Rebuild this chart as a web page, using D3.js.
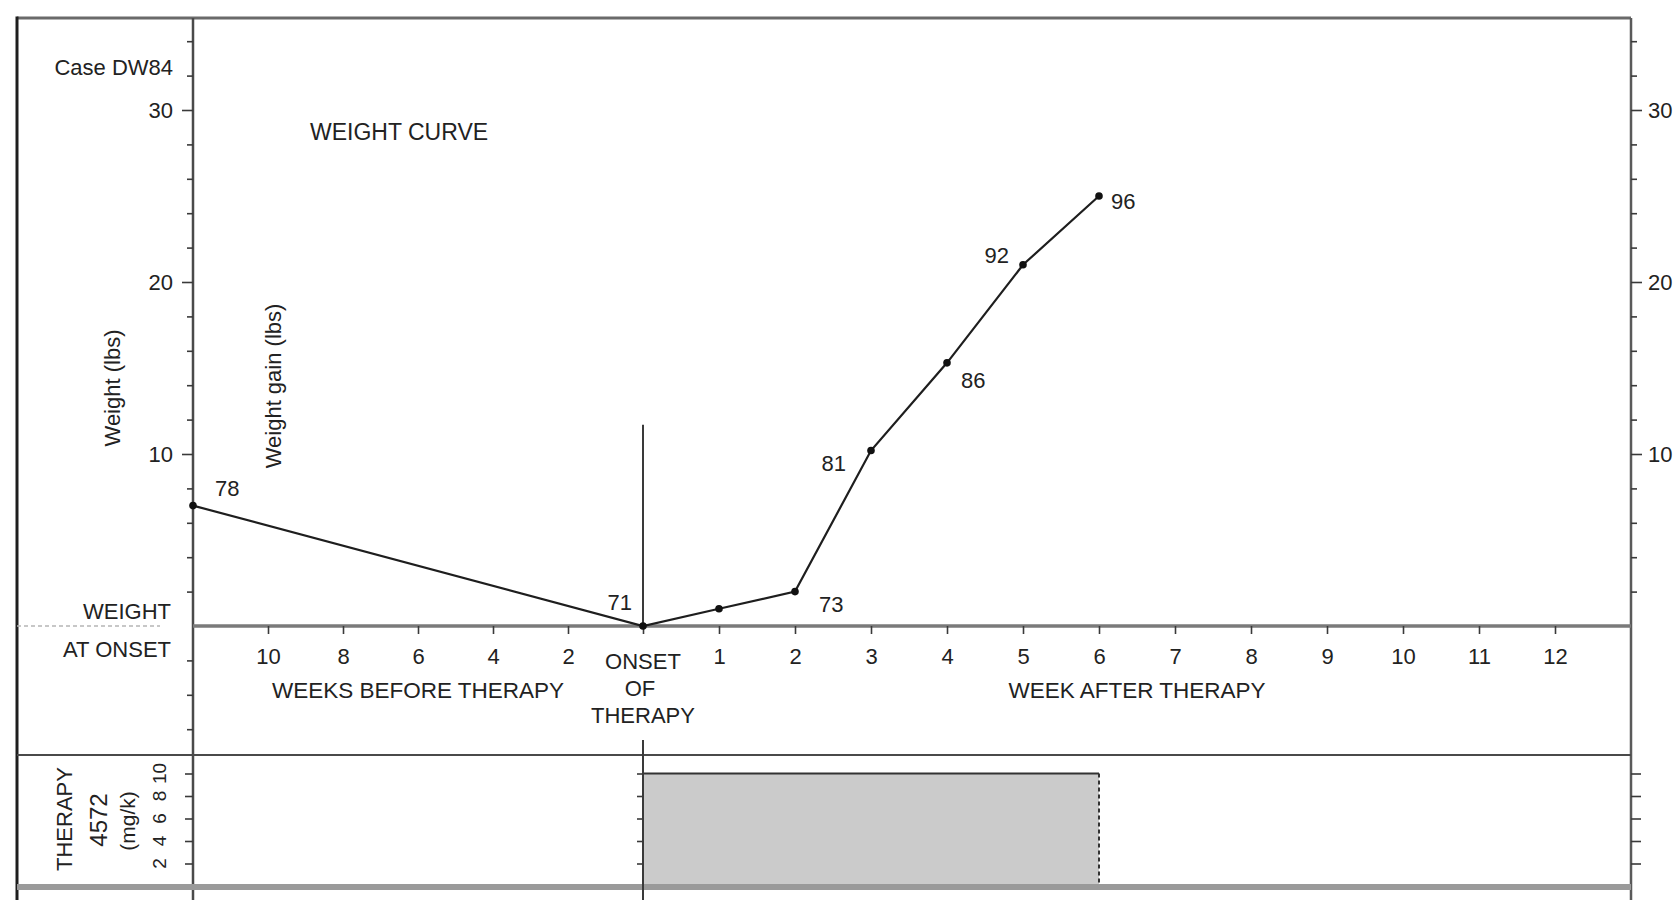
<!DOCTYPE html>
<html><head><meta charset="utf-8">
<script src="https://cdn.jsdelivr.net/npm/d3@7"></script>
<style>
body{margin:0;background:#fff;}
svg{display:block;font-family:"Liberation Sans",Arial,Helvetica,sans-serif;}
</style></head><body>
<svg id="chart" width="1679" height="900"></svg>
<script>
// ---------- DATA ----------
const weeks = [-12, 0, 1, 2, 3, 4, 5, 6];
const weightGain = [7, 0, 1, 2, 10.2, 15.3, 21, 25];
const weightLabels = ["78", "71", "", "73", "81", "86", "92", "96"];
const beforeTicks = [-10, -8, -6, -4, -2];
const afterTicks = [1, 2, 3, 4, 5, 6, 7, 8, 9, 10, 11, 12];
const gainMajorTicks = [10, 20, 30];
const gainMinorTicksLeft = [-6, -4, -2, 2, 4, 6, 8, 12, 14, 16, 18, 22, 24, 26, 28, 32, 34];
const gainMinorTicksRight = [2, 4, 6, 8, 12, 14, 16, 18, 22, 24, 26, 28, 32, 34];
const therapyTicks = [2, 4, 6, 8, 10];
const therapyStartWeek = [0];
const therapyEndWeek = [6];
const therapyDose = [10];
const onsetLineTop = [11.7];

// ---------- LAYOUT / STYLE ----------
const W = 1679, H = 900;
const frameL = 17, axisL = 193, axisR = 1631, topY = 18;
const dividerY = 755, bottomY = 887;
const FS = 22;
const textCol = "#222";
// label placement per point: [anchor, dx, dy]
const labelPlace = [["start", 22, -17], ["end", -11, -24], ["start", 0, 0], ["start", 24, 13],
                    ["end", -25, 13], ["start", 14, 17], ["end", -14, -10], ["start", 12, 5]];

const svg = d3.select("#chart");
svg.append("rect").attr("width", W).attr("height", H).attr("fill", "#fff");

const x = d3.scaleLinear().domain([-12, 0, 13]).range([axisL, 643, axisR]);
const y = d3.scaleLinear().domain([0, 30]).range([626, 110]);
const yT = d3.scaleLinear().domain([0, 10]).range([886, 773.5]);
const baseY = y(0);
const onsetX = x(0);

// therapy bar
const tb = svg.append("g");
tb.append("rect")
  .attr("x", x(therapyStartWeek[0])).attr("y", yT(therapyDose[0]))
  .attr("width", x(therapyEndWeek[0]) - x(therapyStartWeek[0]))
  .attr("height", yT(0) - yT(therapyDose[0]))
  .attr("fill", "#cbcbcb");
tb.append("line")
  .attr("x1", x(therapyStartWeek[0])).attr("x2", x(therapyEndWeek[0]))
  .attr("y1", yT(therapyDose[0])).attr("y2", yT(therapyDose[0]))
  .attr("stroke", "#333").attr("stroke-width", 2.2);
tb.append("line")
  .attr("x1", x(therapyEndWeek[0])).attr("x2", x(therapyEndWeek[0]))
  .attr("y1", yT(therapyDose[0])).attr("y2", yT(0))
  .attr("stroke", "#333").attr("stroke-width", 2).attr("stroke-dasharray", "4,3");

// frame lines
const fr = svg.append("g");
function ln(x1, y1, x2, y2, col, w, dash) {
  const l = fr.append("line").attr("x1", x1).attr("y1", y1).attr("x2", x2).attr("y2", y2)
    .attr("stroke", col).attr("stroke-width", w);
  if (dash) l.attr("stroke-dasharray", dash);
  return l;
}
ln(frameL, topY, axisR, topY, "#6a6a6a", 3);
ln(frameL, topY - 1.5, frameL, H, "#1e1e1e", 3);
ln(axisL, topY, axisL, H, "#4a4a4a", 2.5);
ln(axisR, topY, axisR, H, "#5a5a5a", 2.5);
ln(axisL, baseY, axisR, baseY, "#7a7a7a", 3.5);
ln(frameL, baseY, 160, baseY, "#b5b5b5", 1.5, "4,3");
ln(frameL, dividerY, axisR, dividerY, "#4a4a4a", 2.2);
ln(frameL, bottomY, axisR, bottomY, "#9a9a9a", 6);
// onset line
ln(onsetX, y(onsetLineTop[0]), onsetX, baseY, "#3a3a3a", 2);
ln(onsetX, 740, onsetX, H, "#3a3a3a", 2);

function styleAxis(g, tw) {
  g.select(".domain").remove();
  g.selectAll(".tick line").attr("stroke", "#3a3a3a").attr("stroke-width", tw || 1.6);
  g.selectAll(".tick text").attr("fill", textCol).attr("font-size", FS)
    .attr("font-family", '"Liberation Sans",Arial,sans-serif');
}

// left weight axis
styleAxis(svg.append("g").attr("transform", `translate(${axisL},0)`)
  .call(d3.axisLeft(y).tickValues(gainMinorTicksLeft).tickSize(6).tickFormat("")));
styleAxis(svg.append("g").attr("transform", `translate(${axisL},0)`)
  .call(d3.axisLeft(y).tickValues(gainMajorTicks).tickSize(11).tickPadding(9)));
// right weight axis
styleAxis(svg.append("g").attr("transform", `translate(${axisR},0)`)
  .call(d3.axisRight(y).tickValues(gainMinorTicksRight).tickSize(6).tickFormat("")));
styleAxis(svg.append("g").attr("transform", `translate(${axisR},0)`)
  .call(d3.axisRight(y).tickValues(gainMajorTicks).tickSize(11).tickPadding(6)));

// week axis
styleAxis(svg.append("g").attr("transform", `translate(0,${baseY})`)
  .call(d3.axisBottom(x).tickValues(beforeTicks.concat([0], afterTicks))
    .tickFormat(d => d === 0 ? "" : Math.abs(d)).tickSize(8).tickPadding(14)));

// therapy axes
styleAxis(svg.append("g").attr("transform", `translate(${axisL},0)`)
  .call(d3.axisLeft(yT).tickValues(therapyTicks).tickSize(8).tickFormat("")));
styleAxis(svg.append("g").attr("transform", `translate(${onsetX},0)`)
  .call(d3.axisLeft(yT).tickValues(therapyTicks).tickSize(6).tickFormat("")));
styleAxis(svg.append("g").attr("transform", `translate(${axisR},0)`)
  .call(d3.axisRight(yT).tickValues(therapyTicks).tickSize(10).tickFormat("")));
svg.append("g").selectAll("text").data(therapyTicks).join("text")
  .attr("transform", d => `translate(159,${yT(d)}) rotate(-90)`)
  .attr("text-anchor", "middle").attr("dy", "0.35em")
  .attr("font-size", 19).attr("fill", textCol).text(d => d);

// weight curve
const pts = weeks.map((w, i) => ({w, g: weightGain[i], lab: weightLabels[i], p: labelPlace[i]}));
svg.append("path").datum(pts)
  .attr("d", d3.line().x(d => x(d.w)).y(d => y(d.g)))
  .attr("fill", "none").attr("stroke", "#1e1e1e").attr("stroke-width", 2.2);
svg.append("g").selectAll("circle").data(pts).join("circle")
  .attr("cx", d => x(d.w)).attr("cy", d => y(d.g)).attr("r", 3.8).attr("fill", "#111");
svg.append("g").selectAll("text").data(pts.filter(d => d.lab)).join("text")
  .attr("x", d => x(d.w) + d.p[1]).attr("y", d => y(d.g) + d.p[2])
  .attr("dy", "0.35em").attr("text-anchor", d => d.p[0])
  .attr("font-size", FS).attr("fill", textCol).text(d => d.lab);

// texts
function txt(t, xx, yy, anchor, size, rot) {
  const e = svg.append("text").attr("font-size", size || FS).attr("fill", textCol)
    .attr("text-anchor", anchor || "start").attr("dy", "0.35em").text(t);
  if (rot) e.attr("transform", `translate(${xx},${yy}) rotate(${rot})`);
  else e.attr("x", xx).attr("y", yy);
  return e;
}
txt("Case DW84", 173, 67, "end");
txt("WEIGHT CURVE", 310, 132, "start", 23);
txt("Weight (lbs)", 112, 388, "middle", 22, -90);
txt("Weight gain (lbs)", 273, 386, "middle", 22, -90);
txt("WEIGHT", 171, 611, "end");
txt("AT ONSET", 171, 649, "end");
txt("WEEKS BEFORE THERAPY", 418, 690, "middle", 22.5);
txt("WEEK AFTER THERAPY", 1137, 690, "middle", 22.5);
txt("ONSET", onsetX, 661, "middle");
txt("OF", onsetX - 3, 688, "middle");
txt("THERAPY", onsetX, 715, "middle");
txt("THERAPY", 64, 819, "middle", 22, -90);
txt("4572", 99, 820, "middle", 24, -90);
txt("(mg/k)", 128, 821, "middle", 21, -90);
</script>
</body></html>
